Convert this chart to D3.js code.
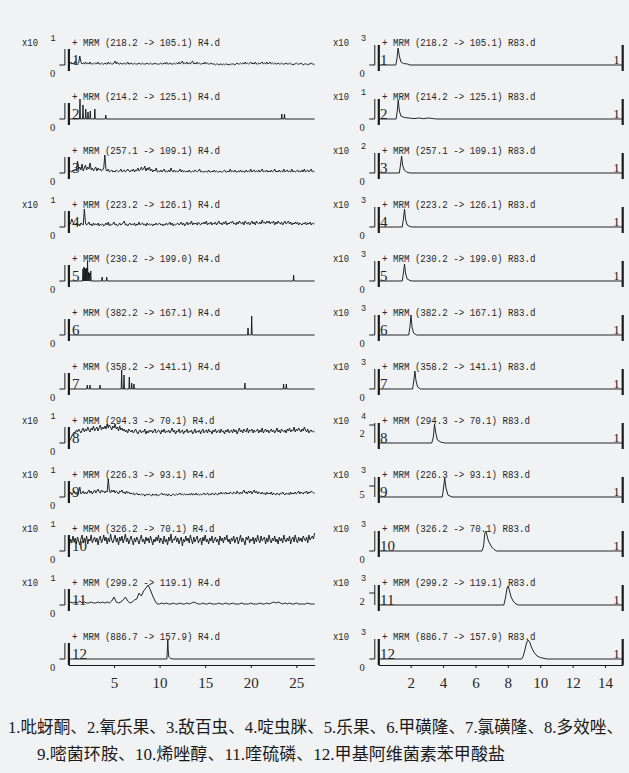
<!DOCTYPE html>
<html><head><meta charset="utf-8">
<script src="https://cdn.jsdelivr.net/npm/d3@7"></script>
<style>body{margin:0;background:#f0f2f4}svg{display:block}
.serif{font-family:'Liberation Serif','Times New Roman',Times,serif}
.mono{font-family:'Liberation Mono','Courier New',monospace}
.cap{font-family:'Liberation Serif','Noto Sans CJK SC',serif}
</style>
</head><body><svg id="c" width="629" height="773"></svg>
<script>
// ---------- DATA ----------
const leftHeaders = ["+ MRM (218.2 -> 105.1) R4.d","+ MRM (214.2 -> 125.1) R4.d","+ MRM (257.1 -> 109.1) R4.d","+ MRM (223.2 -> 126.1) R4.d","+ MRM (230.2 -> 199.0) R4.d","+ MRM (382.2 -> 167.1) R4.d","+ MRM (358.2 -> 141.1) R4.d","+ MRM (294.3 -> 70.1) R4.d","+ MRM (226.3 -> 93.1) R4.d","+ MRM (326.2 -> 70.1) R4.d","+ MRM (299.2 -> 119.1) R4.d","+ MRM (886.7 -> 157.9) R4.d"];
const rightHeaders = ["+ MRM (218.2 -> 105.1) R83.d","+ MRM (214.2 -> 125.1) R83.d","+ MRM (257.1 -> 109.1) R83.d","+ MRM (223.2 -> 126.1) R83.d","+ MRM (230.2 -> 199.0) R83.d","+ MRM (382.2 -> 167.1) R83.d","+ MRM (358.2 -> 141.1) R83.d","+ MRM (294.3 -> 70.1) R83.d","+ MRM (226.3 -> 93.1) R83.d","+ MRM (326.2 -> 70.1) R83.d","+ MRM (299.2 -> 119.1) R83.d","+ MRM (886.7 -> 157.9) R83.d"];
const rowLabels = ["1","2","3","4","5","6","7","8","9","10","11","12"];
const leftExponents = ["1","","","1","","","","1","1","1","1",""];
const rightExponents = ["3","1","2","3","3","3","3","4","3","3","3","3"];
const rightYTicks = [[0,"0"],[0,"0"],[0,"0"],[0,"0"],[0,"0"],[0,"0"],[0,"0"],[18,"2"],[11,"5"],[0,"0"],[12,"2"],[0,"0"]];
const leftXTicks = [5,10,15,20,25];
const rightXTicks = [2,4,6,8,10,12,14];
const leftDomain = [0,27];
const rightDomain = [0,15.09];

// left noisy traces (intensity 0-20), evenly sampled from 0 to 27 min (8 samples per minute)
const L1 = [0,1,3,1,2,1,4,2, 1,2,9,3,1,2,1,3, 1,2,1,3,1,1,2,1, 2,1,3,1,1,2,1,1, 2,1,1,3,1,2,1,1, 2,4,1,3,1,1,2,1,
  1,2,1,1,3,1,1,2, 1,1,2,1,1,1,2,1, 1,2,1,1,1,2,1,1, 2,1,1,1,2,1,1,1, 1,2,1,1,2,1,3,1, 1,2,1,1,1,2,1,2,
  1,3,1,2,4,1,2,1, 3,1,2,1,3,4,1,2, 1,3,1,2,1,1,2,1, 3,1,2,1,1,2,1,1, 1,0,1,1,0,1,1,0, 1,0,1,1,0,1,0,1,
  1,1,0,1,2,1,1,2, 1,2,1,3,1,2,1,2, 3,1,2,1,3,1,1,2, 1,2,3,1,2,1,3,1, 2,3,1,2,1,2,1,1, 2,1,1,2,1,1,1,2,
  1,1,2,1,1,0,1,1, 2,1,1,1,2,1,0,1, 1,1,0,1,1,2,1,1, 0];
const L3 = [0,1,2,1,3,2,4,2, 12,4,6,3,9,2,5,8, 3,6,4,10,3,5,2,4, 6,2,5,3,4,2,3,5, 18,3,2,4,1,2,3,1, 2,1,3,2,1,2,4,1,
  2,3,1,2,4,2,1,3, 2,4,1,3,2,5,2,3, 6,3,4,7,2,5,3,6, 2,4,1,3,2,5,1,2, 1,3,1,2,4,1,2,1, 3,1,5,2,1,3,1,2,
  1,2,4,1,3,1,2,1, 2,1,3,1,1,2,1,3, 2,1,2,4,1,2,1,1, 2,1,1,3,1,1,2,1, 3,1,2,1,1,2,1,1, 2,3,1,1,2,1,4,1,
  2,1,3,1,1,2,1,3, 1,2,1,1,3,1,2,1, 4,1,2,3,1,2,1,3, 1,2,4,1,2,1,3,1, 2,1,3,1,2,4,1,2, 1,3,1,2,1,4,1,2,
  3,1,2,1,4,1,2,1, 2,3,1,2,1,3,1,4, 1,2,3,1,2,4,1,2, 1];
const L4 = [0,2,4,8,5,3,2,4, 2,3,1,4,3,2,18,4, 2,3,5,2,3,1,4,2, 3,2,4,1,3,2,3,1, 2,4,2,5,1,3,2,3, 5,2,3,1,2,4,2,3,
  4,6,2,3,1,3,4,2, 3,2,4,1,3,2,5,2, 3,4,2,3,1,4,2,3, 2,3,1,3,2,4,2,3, 4,2,3,1,3,2,4,2, 3,5,2,4,1,3,2,3,
  4,2,3,5,2,4,1,3, 5,2,4,3,6,2,4,3, 4,2,5,3,2,4,3,5, 3,6,2,4,3,5,2,4, 3,5,2,4,6,3,4,2, 5,3,6,2,4,3,5,4,
  6,3,4,2,5,3,6,4, 3,5,2,6,4,3,5,2, 4,6,3,5,2,6,4,3, 5,3,7,4,5,3,6,4, 6,3,5,4,6,2,5,3, 6,4,3,5,2,4,6,3,
  4,6,3,5,2,4,3,5, 3,5,2,4,3,2,4,3, 5,2,4,3,5,2,4,3, 4];
const L8 = [0,2,4,7,9,11,10,13, 11,14,12,10,13,15,11,14, 12,16,13,11,15,13,17,12, 14,16,12,15,18,13,16,14,
  17,14,19,15,18,16,13,17, 15,19,14,16,12,17,13,15, 12,14,11,13,10,14,12,11, 13,10,12,14,11,9,12,13,
  10,12,11,14,9,12,10,13, 11,13,10,12,14,10,11,13, 12,9,13,11,14,10,12,11, 13,10,12,15,11,13,9,12,
  11,14,10,12,13,9,12,11, 14,10,12,11,13,9,11,14, 10,12,11,13,9,12,14,10, 12,13,10,14,11,12,9,13,
  11,14,10,12,13,10,14,11, 12,9,13,11,14,10,12,13, 10,14,11,13,9,12,15,11, 13,10,14,12,11,15,10,13,
  12,14,10,13,11,12,14,10, 13,11,15,10,12,14,11,13, 10,12,14,11,13,10,12,15, 11,13,10,14,12,11,13,10,
  14,12,15,11,13,12,16,11, 14,12,15,13,11,14,12,16, 13,11,14,10,12,13,11,12, 11];
const L9 = [0,3,5,2,4,6,3,4, 2,5,10,3,4,6,3,5, 3,5,7,4,6,3,5,7, 4,6,8,5,4,7,5,6, 4,6,5,18,6,4,7,5, 7,4,6,5,3,6,5,7,
  4,5,3,6,4,5,3,4, 3,4,2,3,4,2,3,2, 3,2,3,1,2,3,2,3, 2,1,3,2,2,3,1,2, 2,3,4,2,3,2,3,1, 3,2,1,2,3,2,2,3,
  2,3,4,2,3,2,3,2, 3,2,3,2,4,2,3,2, 4,2,3,2,3,2,3,4, 2,3,4,2,3,2,4,3, 2,4,3,2,4,3,5,3, 4,3,5,3,4,3,5,4,
  3,5,4,3,6,4,3,5, 3,5,7,4,5,3,6,4, 6,3,5,7,4,6,3,5, 4,3,5,3,4,2,5,3, 4,3,5,2,4,3,2,4, 3,2,4,3,5,3,2,4,
  3,4,2,5,3,4,3,5, 3,4,6,3,5,4,3,5, 4,6,3,5,4,6,5,4, 4];
const L10 = [0,6,12,8,15,9,13,7, 14,10,6,12,16,8,13,9, 15,7,12,10,16,8,11,14, 9,13,6,12,15,8,11,16,
  10,14,7,13,9,17,11,8, 12,16,9,13,6,14,10,15, 8,12,17,9,13,7,11,15, 10,6,13,9,14,11,7,12,
  16,9,12,7,14,10,13,8, 15,11,6,12,9,14,10,16, 8,13,11,7,15,9,12,6, 14,10,17,8,12,11,15,9,
  13,7,11,14,5,12,9,15, 10,13,8,16,11,7,14,9, 12,15,8,11,13,6,14,10, 16,9,12,7,13,10,15,8,
  11,14,9,12,6,15,10,13, 8,14,11,16,9,12,7,13, 10,15,8,12,14,7,11,16, 9,13,10,6,14,11,15,8,
  12,10,14,7,13,9,16,11, 8,15,10,12,14,7,13,9, 16,11,8,13,10,15,9,12, 7,14,10,13,8,16,11,9,
  13,10,15,7,12,14,9,16, 11,8,14,10,13,9,15,12, 10,14,8,16,11,13,15,12, 18];
const L11 = [0,3,2,3,2,4,2,3,2,2,3,2,2,3,2,3,2,3,2,4,8,3,2,3,5,8,4,2,3,5,6,12,9,14,17,20,15,9,4,1,1,2,1,2,1,1,2,1,1,2,1,1,2,1,2,3,2,1,1,2,1,1,2,1,1,1,2,1,1,2,1,1,2,1,1,1,2,1,1,1,2,1,1,1,2,1,1,2,1,2,3,2,3,2,1,2,1,2,1,1,2,1,1,1,1,2,1,1,1];
// left sparse traces: spike times (min) and heights
const L2Times = [1.27,1.6,1.9,2.15,2.4,2.9,4.1,23.4,23.7];
const L2Heights = [20,14,10,7,8,10,4,5,5];
const L5Times = [1.6,1.7,1.8,1.9,2.0,2.1,2.2,2.3,2.45,3.7,4.2,24.7];
const L5Heights = [12,14,13,12,13,20,9,8,10,4,4,6];
const L6Times = [19.7,20.1];
const L6Heights = [7,19];
const L7Times = [2.07,2.37,3.47,5.84,6.1,6.68,6.94,7.19,19.36,23.6,23.9];
const L7Heights = [4,4,4,19,14,12,6,5,6,5,5];
const L12 = [[0,0],[10.8,0],[10.86,10],[10.9,19],[10.95,8],[11.02,2],[11.2,0.5],[11.5,0],[27,0]];

// right traces: [time, intensity]
const R1 = [[0,0],[1.08,0],[1.15,6],[1.22,17],[1.3,9],[1.4,3],[1.55,1.5],[1.8,1],[1.95,0],[15.09,0]];
const R2 = [[0,0],[1.1,0],[1.17,8],[1.23,19],[1.3,8],[1.4,3],[1.6,1.5],[1.9,1],[2.2,0.4],[2.5,1],[2.8,0.3],[3.1,1],[3.4,0.4],[3.6,0],[15.09,0]];
const R3 = [[0,0],[1.3,0],[1.37,8],[1.44,17],[1.5,8],[1.6,3],[1.75,1],[1.95,0],[15.09,0]];
const R4 = [[0,0],[1.48,0],[1.55,8],[1.62,18],[1.68,8],[1.78,2],[1.95,0.5],[2.1,0],[15.09,0]];
const R5 = [[0,0],[1.48,0],[1.55,8],[1.62,17],[1.68,8],[1.78,2],[1.95,0.5],[2.1,0],[15.09,0]];
const R6 = [[0,0],[1.88,0],[1.95,8],[2.02,20],[2.08,8],[2.18,2],[2.35,0],[15.09,0]];
const R7 = [[0,0],[2.12,0],[2.19,8],[2.26,18],[2.33,8],[2.43,2],[2.6,0],[15.09,0]];
const R8 = [[0,0],[3.3,0],[3.4,6],[3.47,19],[3.55,10],[3.65,3],[3.85,1],[4.1,0],[15.09,0]];
const R9 = [[0,0],[3.95,0],[4.02,8],[4.1,19],[4.18,9],[4.3,2],[4.55,0],[15.09,0]];
const R10 = [[0,0],[6.4,0],[6.5,5],[6.58,18],[6.65,20],[6.72,15],[6.8,10],[6.9,7],[7.0,4],[7.15,1.5],[7.3,0],[15.09,0]];
const R11 = [[0,0],[7.75,0],[7.85,7],[7.95,17],[8.02,19],[8.1,14],[8.2,8],[8.32,4],[8.5,1],[8.65,0],[15.09,0]];
const R12 = [[0,0],[8.85,0],[8.95,3],[9.05,9],[9.15,16],[9.25,19],[9.35,17],[9.45,12],[9.6,7],[9.8,3],[10.0,1.5],[10.4,0],[15.09,0]];

const captionLine1 = "1.吡蚜酮、2.氧乐果、3.敌百虫、4.啶虫脒、5.乐果、6.甲磺隆、7.氯磺隆、8.多效唑、";
const captionLine2 = "9.嘧菌环胺、10.烯唑醇、11.喹硫磷、12.甲基阿维菌素苯甲酸盐";

// ---------- BUILD ----------
function sampled(arr, dom){ const n=arr.length; return arr.map((v,k)=>[dom[0]+k*(dom[1]-dom[0])/(n-1), v]); }
function spikes(ts, hs, dom){
  const pts=[[dom[0],0]];
  ts.forEach((t,k)=>{ pts.push([t-0.05,0],[t,hs[k]],[t+0.05,0]); });
  pts.push([dom[1],0]); return pts;
}
const leftData = [
  sampled(L1,leftDomain), spikes(L2Times,L2Heights,leftDomain), sampled(L3,leftDomain), sampled(L4,leftDomain),
  spikes(L5Times,L5Heights,leftDomain), spikes(L6Times,L6Heights,leftDomain), spikes(L7Times,L7Heights,leftDomain),
  sampled(L8,leftDomain), sampled(L9,leftDomain), sampled(L10,leftDomain), sampled(L11,leftDomain), L12
];
const rightData = [R1,R2,R3,R4,R5,R6,R7,R8,R9,R10,R11,R12];

const svg = d3.select('#c');
svg.append('rect').attr('width',629).attr('height',773).attr('fill','#f0f2f4');
const ink = '#1a1a1a', txt = '#262626';

const xL = d3.scaleLinear().domain(leftDomain).range([68.4, 314.6]);
const xR = d3.scaleLinear().domain(rightDomain).range([378.3, 622.7]);
const rowY = d3.scaleLinear().domain([0,11]).range([65,659]);

function header(g, x, y, s){
  g.append('text').attr('class','mono').attr('x',x).attr('y',y).attr('dominant-baseline','central')
   .style('font-size','11.5px').attr('fill',txt)
   .attr('textLength', s.length*5.48).attr('lengthAdjust','spacingAndGlyphs').text(s);
}

function panel(side){
  const isL = side==='L';
  const x = isL ? xL : xR;
  const data = isL ? leftData : rightData;
  const heads = isL ? leftHeaders : rightHeaders;
  const exps = isL ? leftExponents : rightExponents;
  const x0 = x(x.domain()[0]);
  const axTop = isL ? 16 : 20;
  for(let i=0;i<12;i++){
    const base = rowY(i);
    const y = d3.scaleLinear().domain([0,20]).range([base, base-20]);
    const g = svg.append('g');
    if(exps[i]){
      g.append('text').attr('class','mono').attr('x', isL?22:333).attr('y', base-23).attr('dominant-baseline','central')
        .style('font-size','11.5px').attr('fill',txt)
        .attr('textLength',16).attr('lengthAdjust','spacingAndGlyphs').text('x10');
      g.append('text').attr('class','mono').attr('x', isL?50.5:361).attr('y', base-26).attr('dominant-baseline','central')
        .style('font-size','8.5px').attr('fill',txt).text(exps[i]);
    }
    header(g, isL?72:382, base-23, heads[i]);
    g.append('line').attr('x1',x0-3.5).attr('x2',x0-3.5).attr('y1',base-axTop).attr('y2',base)
      .attr('stroke',ink).attr('stroke-width',1);
    const tk = isL ? [0,"0"] : rightYTicks[i];
    const ty = y(tk[0]);
    g.append('line').attr('x1',x0-9).attr('x2',x0-3.5).attr('y1',ty).attr('y2',ty).attr('stroke',ink).attr('stroke-width',1);
    g.append('text').attr('class','serif').attr('x', isL?52.5:362).attr('y', ty+8).attr('text-anchor','middle').attr('dominant-baseline','central')
      .style('font-size','10.5px').attr('fill',txt).text(tk[1]);
    g.append('line').attr('x1',x0+0.5).attr('x2',x0+0.5).attr('y1',base-axTop).attr('y2',base+6)
      .attr('stroke',ink).attr('stroke-width',2.2);
    if(!isL){
      const xe = x(x.domain()[1]);
      g.append('line').attr('x1',xe).attr('x2',xe).attr('y1',base-20).attr('y2',base+6)
        .attr('stroke',ink).attr('stroke-width',2.2);
      g.append('text').attr('class','serif').attr('x',xe-3).attr('y',base-1).attr('text-anchor','end')
        .style('font-size','13px').attr('fill',txt).text('1');
    }
    const line = d3.line().x(d=>x(d[0])).y(d=>y(d[1]));
    g.append('path').attr('d', line(data[i])).attr('fill','none').attr('stroke',ink)
      .attr('stroke-width', 0.95).attr('stroke-linejoin','round');
    g.append('text').attr('class','serif').attr('x', isL?72:380).attr('y', base)
      .style('font-size','15px').attr('fill',txt).text(rowLabels[i]);
  }
  const axY = rowY(11)+6;
  const ax = svg.append('g').attr('transform',`translate(0,${axY})`)
    .call(d3.axisBottom(x).tickValues(isL?leftXTicks:rightXTicks).tickSize(3).tickSizeOuter(0).tickPadding(9));
  ax.attr('font-family',null);
  ax.select('.domain').attr('stroke',ink).attr('stroke-width',1.2);
  ax.selectAll('.tick line').attr('stroke',ink);
  ax.selectAll('.tick text').attr('class','serif').style('font-size','15px').attr('fill',txt);
}
panel('L');
panel('R');

const cap = svg.append('g').attr('class','cap').attr('fill','#1a1a1a').style('font-size','16.5px');
cap.append('text').attr('x',8).attr('y',727).attr('dominant-baseline','central')
  .attr('textLength',615).attr('lengthAdjust','spacingAndGlyphs').text(captionLine1);
cap.append('text').attr('x',37).attr('y',754).attr('dominant-baseline','central')
  .attr('textLength',468).attr('lengthAdjust','spacingAndGlyphs').text(captionLine2);
</script></body></html>
